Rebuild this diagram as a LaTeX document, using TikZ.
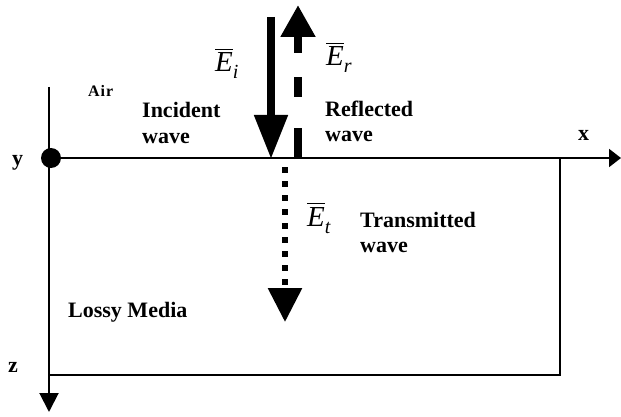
\documentclass[tikz,border=0pt]{standalone}
\usepackage{fontspec}
\setmainfont{Liberation Serif}
\usetikzlibrary{arrows.meta}
\newcommand{\fieldE}[1]{$\overline{\mbox{\itshape\rule{0pt}{0.74em}E}}$\raisebox{-7pt}{\fontsize{20}{20}\selectfont\itshape #1}}
\tikzset{
  lbl/.style={font=\fontsize{22}{25}\selectfont\bfseries, inner sep=0pt, anchor=base west, align=left},
  axlbl/.style={font=\fontsize{22}{22}\selectfont\bfseries, inner sep=0pt, anchor=base west},
  fld/.style={font=\fontsize{29}{29}\selectfont, inner sep=0pt, anchor=base west},
  axis/.style={line width=2pt},
}
\begin{document}
\begin{tikzpicture}[x=1pt,y=-1pt]
\useasboundingbox (0,0) rectangle (621,417);
% coordinates
\coordinate (O) at (49,158);
\coordinate (Xend) at (621,158);
\coordinate (Ztop) at (49,87);
\coordinate (Zend) at (49,412);
\coordinate (BR) at (560,158);
\coordinate (BRb) at (560,375);
\coordinate (BLb) at (49,375);
\coordinate (Itop) at (271,17);
\coordinate (Ibot) at (271,159);
\coordinate (Rbot) at (298,159);
\coordinate (Rtop) at (298,5);
\coordinate (Ttop) at (285,167);
\coordinate (Tbot) at (285,322);
% axes and box
\draw[axis, -{Triangle[length=12pt,width=18pt]}] (O) -- (Xend);
\draw[axis, -{Triangle[length=19pt,width=19pt]}] (Ztop) -- (Zend);
\draw[axis] (BR) -- (BRb) -- (BLb);
\fill (51,158) circle (10pt) node (dot) {};
% waves
\draw[line width=8pt, -{Triangle[length=44pt,width=32pt]}] (Itop) -- (Ibot);
\draw[line width=8pt, dash pattern=on 31pt off 31pt on 20pt off 24pt on 16pt off 100pt,
      -{Triangle[length=32pt,width=33pt]}] (Rbot) -- (Rtop);
\draw[line width=6pt, dash pattern=on 6pt off 8pt,
      -{Triangle[length=34pt,width=33pt]}] (Ttop) -- (Tbot);
% labels
\node[axlbl] (ylab) at (12,165) {y};
\node[axlbl] (xlab) at (578,140) {x};
\node[axlbl] (zlab) at (8,372) {z};
\node[font=\fontsize{16}{16}\selectfont\bfseries, inner sep=0pt, anchor=base west] (air) at (88,97) {A\kern1pt i\kern1pt r};
\node[lbl] (inc) at (142,143) {Incident\\wave};
\node[lbl] (refl) at (325,142) {Reflected\\wave};
\node[lbl] (trans) at (360,252) {Transmitted\\wave};
\node[lbl] (lossy) at (68,317) {Lossy Media};
\node[fld] (Ei) at (215,72) {\fieldE{i}};
\node[fld] (Er) at (326,66) {\fieldE{r}};
\node[fld] (Et) at (307,226) {\fieldE{t}};
\end{tikzpicture}
\end{document}
